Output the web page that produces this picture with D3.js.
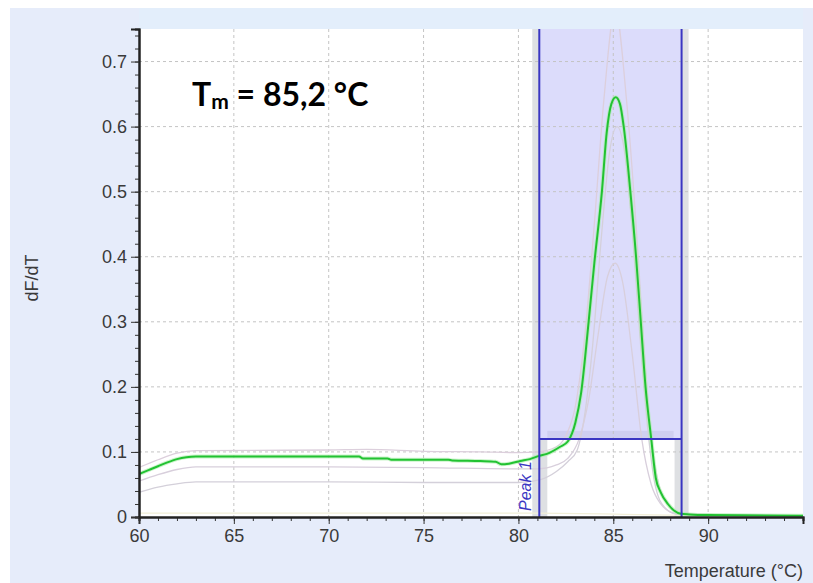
<!DOCTYPE html>
<html>
<head>
<meta charset="utf-8">
<script src="https://cdn.jsdelivr.net/npm/d3@7"></script>
<style>
  body { margin: 0; background: #fff; }
  svg { display: block; }
</style>
</head>
<body>
<div id="chart"></div>
<script>
// melt curve data
const greenT = [60, 60.5, 61, 61.5, 62, 62.5, 63, 65, 70, 71.6, 71.8, 73.1, 73.3, 76.3, 76.5, 78, 78.8, 79.1, 79.5, 80.1, 80.6, 81.1, 81.5, 82.2, 82.6, 83.0, 83.3, 83.7, 84.0, 84.4, 84.65, 84.9, 85.13, 85.35, 85.55, 85.9, 86.2, 86.45, 86.7, 87.0, 87.24, 87.5, 87.88, 88.2, 88.56, 89, 90, 95];
const greenV = [0.066, 0.072, 0.078, 0.084, 0.089, 0.092, 0.093, 0.093, 0.093, 0.093, 0.090, 0.090, 0.088, 0.088, 0.087, 0.086, 0.085, 0.081, 0.082, 0.086, 0.089, 0.094, 0.097, 0.108, 0.116, 0.145, 0.19, 0.30, 0.39, 0.50, 0.59, 0.635, 0.645, 0.635, 0.60, 0.50, 0.40, 0.30, 0.20, 0.12, 0.06, 0.038, 0.02, 0.01, 0.005, 0.004, 0.003, 0.002];

const grayAT = [60, 61, 62, 63, 70, 72, 75, 78, 80, 81, 82, 82.5, 83, 83.5, 84, 84.5, 85.1, 85.7, 86.2, 86.6, 87, 87.4, 88, 88.6, 95];
const grayAV = [0.076, 0.088, 0.098, 0.102, 0.103, 0.104, 0.101, 0.100, 0.099, 0.100, 0.108, 0.125, 0.17, 0.28, 0.45, 0.64, 0.78, 0.64, 0.45, 0.27, 0.12, 0.05, 0.015, 0.005, 0.002];

const grayBT = [60, 61, 62, 63, 70, 75, 80, 81, 82, 82.6, 83.2, 83.7, 84.2, 84.7, 85.1, 85.5, 86, 86.5, 87, 87.5, 88, 88.6, 95];
const grayBV = [0.055, 0.065, 0.073, 0.077, 0.077, 0.076, 0.074, 0.074, 0.080, 0.090, 0.12, 0.18, 0.28, 0.37, 0.39, 0.36, 0.25, 0.12, 0.05, 0.02, 0.008, 0.004, 0.002];

const grayCT = [60, 61, 62, 63, 70, 75, 80, 81.2, 82, 82.6, 83.1, 83.4, 83.9, 84.4, 84.8, 85.2, 85.6, 86, 86.4, 86.8, 87.2, 87.7, 88.3, 95];
const grayCV = [0.038, 0.046, 0.051, 0.054, 0.054, 0.053, 0.053, 0.058, 0.070, 0.085, 0.103, 0.14, 0.26, 0.44, 0.56, 0.60, 0.56, 0.44, 0.28, 0.14, 0.05, 0.015, 0.005, 0.002];

const ntcT = [60, 70, 80, 81, 88, 95];
const ntcV = [0.006, 0.006, 0.006, 0.006, 0.003, 0.002];

const xTicks = [60, 65, 70, 75, 80, 85, 90];
const yTicks = [0, 0.1, 0.2, 0.3, 0.4, 0.5, 0.6, 0.7];
const peakStart = 81.1, peakEnd = 88.6, peakLevel = 0.12;

const W = 813, H = 583;
const svg = d3.select("#chart").append("svg").attr("width", W).attr("height", H);

const x = d3.scaleLinear().domain([60, 95]).range([139, 803]);
const y = d3.scaleLinear().domain([0, 0.75]).range([517, 29]);

// background panels
svg.append("rect").attr("x", 10).attr("y", 8).attr("width", W - 10).attr("height", H - 8).attr("fill", "#e6ecfa");
svg.append("rect").attr("x", x(60)).attr("y", 8).attr("width", x(95) - x(60)).attr("height", y(0.75) - 8).attr("fill", "#e3eefb");
svg.append("rect").attr("x", x(60)).attr("y", y(0.75)).attr("width", x(95) - x(60)).attr("height", y(0) - y(0.75)).attr("fill", "#fff");

const plot = svg.append("g");
plot.append("clipPath").attr("id", "clip").append("rect")
  .attr("x", x(60)).attr("y", y(0.75)).attr("width", x(95) - x(60)).attr("height", y(0) - y(0.75));

// peak region: gray edge bands and lavender box
plot.append("rect").attr("x", x(peakStart) - 7).attr("y", y(0.75)).attr("width", 15).attr("height", y(0) - y(0.75))
  .attr("fill", "#d6d8dc").attr("opacity", 0.8);
plot.append("rect").attr("x", x(peakEnd) - 7).attr("y", y(0.75)).attr("width", 14).attr("height", y(0) - y(0.75))
  .attr("fill", "#d6d8dc").attr("opacity", 0.8);
plot.append("rect").attr("x", x(peakStart)).attr("y", y(0.75)).attr("width", x(peakEnd) - x(peakStart)).attr("height", y(peakLevel) - y(0.75))
  .attr("fill", "#dcdcfb");
plot.append("rect").attr("x", x(peakStart) + 8).attr("y", y(peakLevel) - 8).attr("width", x(peakEnd) - x(peakStart) - 16).attr("height", 7)
  .attr("fill", "#cfcff0");

// grid
plot.append("g").selectAll("line").data(xTicks.slice(1)).join("line")
  .attr("x1", d => x(d)).attr("x2", d => x(d)).attr("y1", y(0.75)).attr("y2", y(0))
  .attr("stroke", "#c4c4c4").attr("stroke-dasharray", "3,3");
plot.append("g").selectAll("line").data(yTicks.slice(1)).join("line")
  .attr("x1", x(60)).attr("x2", x(95)).attr("y1", d => y(d)).attr("y2", d => y(d))
  .attr("stroke", "#c4c4c4").attr("stroke-dasharray", "3,3");

const line = d3.line().x(d => x(d[0])).y(d => y(d[1])).curve(d3.curveMonotoneX);
const curves = plot.append("g").attr("clip-path", "url(#clip)");
curves.append("path").datum(d3.zip(ntcT, ntcV)).attr("d", line).attr("fill", "none").attr("stroke", "#f2efd8").attr("stroke-width", 1.2);
[[grayCT, grayCV, "#d4d0da"], [grayBT, grayBV, "#d8cfdc"], [grayAT, grayAV, "#dccfdc"]].forEach(([t, v, c]) => {
  curves.append("path").datum(d3.zip(t, v)).attr("d", line).attr("fill", "none").attr("stroke", c).attr("stroke-width", 1.3);
});
curves.append("path").datum(d3.zip(greenT, greenV)).attr("d", line).attr("fill", "none").attr("stroke", "#a8eea8").attr("stroke-width", 4).attr("opacity", 0.6);
curves.append("path").datum(d3.zip(greenT, greenV)).attr("d", line).attr("fill", "none").attr("stroke", "#22c232").attr("stroke-width", 2);

// peak markers
const blue = "#3a36c2";
plot.append("line").attr("x1", x(peakStart)).attr("x2", x(peakStart)).attr("y1", y(0.75)).attr("y2", y(0)).attr("stroke", blue).attr("stroke-width", 2);
plot.append("line").attr("x1", x(peakEnd)).attr("x2", x(peakEnd)).attr("y1", y(0.75)).attr("y2", y(0)).attr("stroke", blue).attr("stroke-width", 2);
plot.append("line").attr("x1", x(peakStart)).attr("x2", x(peakEnd)).attr("y1", y(peakLevel)).attr("y2", y(peakLevel)).attr("stroke", blue).attr("stroke-width", 2);
plot.append("text").attr("transform", `translate(${x(peakStart) - 8},${y(0) - 6}) rotate(-90)`)
  .attr("font-family", "Liberation Sans, Arial, sans-serif").attr("font-style", "italic").attr("font-size", 16)
  .attr("fill", blue).text("Peak 1");

// axes
const axisFont = "Liberation Sans, Arial, sans-serif";
const xAxis = svg.append("g").attr("transform", `translate(0,${y(0)})`)
  .call(d3.axisBottom(x).tickValues(d3.range(60, 95, 1)).tickSize(4).tickFormat(""));
xAxis.append("g").call(d3.axisBottom(x).tickValues(xTicks).tickSize(7).tickPadding(5));
const yAxis = svg.append("g").attr("transform", `translate(${x(60)},0)`)
  .call(d3.axisLeft(y).tickValues(d3.range(0, 0.751, 0.02)).tickSize(4).tickFormat(""));
yAxis.append("g").call(d3.axisLeft(y).tickValues(yTicks).tickSize(8).tickPadding(4).tickFormat(d => d === 0 ? "0" : d3.format(".1f")(d)));
[xAxis, yAxis].forEach(a => {
  a.selectAll(".domain").attr("stroke", "#222").attr("stroke-width", 2);
  a.selectAll("line").attr("stroke", "#333");
  a.selectAll("text").attr("font-family", axisFont).attr("font-size", 18).attr("fill", "#3a3a3a");
});

svg.append("text").attr("x", 803).attr("y", 577).attr("text-anchor", "end")
  .attr("font-family", axisFont).attr("font-size", 18).attr("fill", "#3a3a3a").text("Temperature (°C)");
svg.append("text").attr("transform", "translate(38,278) rotate(-90)").attr("text-anchor", "middle")
  .attr("font-family", axisFont).attr("font-size", 18).attr("fill", "#3a3a3a").text("dF/dT");

// Tm annotation
const tm = svg.append("text").attr("x", 192).attr("y", 106)
  .attr("font-family", "Lato, Open Sans, sans-serif").attr("font-weight", "bold").attr("font-size", 32).attr("fill", "#000");
tm.append("tspan").text("T");
tm.append("tspan").attr("font-size", 21).attr("dy", 3).text("m");
tm.append("tspan").attr("dy", -3).text(" = 85,2 °C");
</script>
</body>
</html>
